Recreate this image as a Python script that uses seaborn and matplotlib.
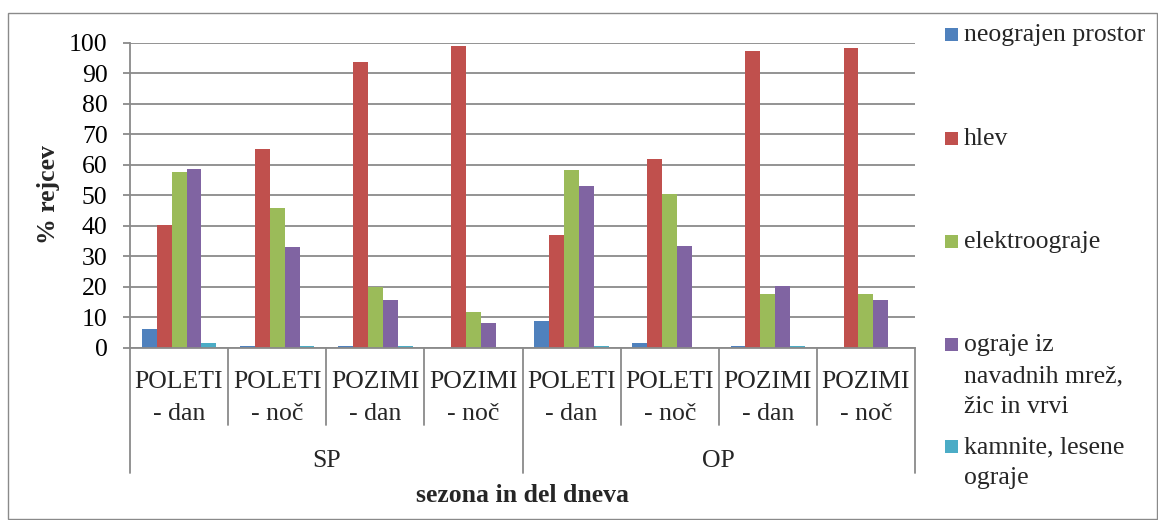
import matplotlib
matplotlib.use("Agg")
import matplotlib.pyplot as plt
import matplotlib.transforms as mtransforms
from matplotlib.patches import Rectangle
from matplotlib.lines import Line2D
import seaborn as sns
import pandas as pd

# --- data -----------------------------------------------------------------
groups = ["SP", "OP"]
periods = ["POLETI\n- dan", "POLETI\n- noč", "POZIMI\n- dan", "POZIMI\n- noč"]
series_names = [
    "neograjen prostor",
    "hlev",
    "elektroograje",
    "ograje iz\nnavadnih mrež,\nžic in vrvi",
    "kamnite, lesene\nograje",
]
neograjen = [6.2, 0.6, 0.6, 0.0, 8.6, 1.5, 0.6, 0.0]
hlev = [40.2, 65.1, 93.6, 99.0, 37.0, 61.8, 97.4, 98.2]
elektro = [57.7, 45.7, 20.0, 11.8, 58.3, 50.4, 17.6, 17.6]
mreze = [58.6, 32.9, 15.5, 8.1, 53.0, 33.4, 20.3, 15.7]
kamnite = [1.5, 0.6, 0.6, 0.0, 0.6, 0.0, 0.6, 0.0]
colors = ["#4F81BD", "#C0504D", "#9BBB59", "#8064A2", "#4BACC6"]
yticks = list(range(0, 101, 10))

# --- long-form table ------------------------------------------------------
cats = [f"{g}|{p}" for g in groups for p in periods]
series_values = [neograjen, hlev, elektro, mreze, kamnite]
rows = []
for name, vals in zip(series_names, series_values):
    for c, v in zip(cats, vals):
        rows.append({"kategorija": c, "serija": name, "delez": v})
df = pd.DataFrame(rows)

# --- style ----------------------------------------------------------------
sns.set_theme(style="white")
plt.rcParams["font.family"] = ["Liberation Serif", "DejaVu Serif"]
FS = 18.5
GRID = "#8a8a8a"

W, H = 1158, 520
fig = plt.figure(figsize=(W / 100, H / 100), dpi=100)


def fx(px):
    return px / W


def fy(py):
    return 1 - py / H


ax_left, ax_right, ax_top, ax_bottom = 130, 915, 42.7, 347.7
ax = fig.add_axes([fx(ax_left), fy(ax_bottom), fx(ax_right - ax_left),
                   (ax_bottom - ax_top) / H])

sns.barplot(data=df, x="kategorija", y="delez", hue="serija", order=cats,
            hue_order=series_names, palette=colors, saturation=1,
            width=0.76, gap=0, legend=False, ax=ax, errorbar=None,
            edgecolor="none")

ax.set_xlim(-0.5, len(cats) - 0.5)
ax.set_ylim(0, 100)
ax.set_yticks(yticks)
ax.set_yticklabels([str(t) for t in yticks], fontsize=FS, color="black")
ax.yaxis.grid(True, color=GRID, linewidth=1.3)
ax.set_axisbelow(True)
ax.tick_params(axis="y", direction="out", length=5.2, width=1.3,
               color=GRID, pad=11, left=True)
ax.tick_params(axis="x", bottom=False, labelbottom=False)
ax.set_xlabel("")
ax.set_ylabel("")
for s in ["top", "right"]:
    ax.spines[s].set_visible(False)
for s in ["left", "bottom"]:
    ax.spines[s].set_color(GRID)
    ax.spines[s].set_linewidth(1.3)

# --- multi-level category axis -------------------------------------------
blend = mtransforms.blended_transform_factory(ax.transData, fig.transFigure)
n_per = len(periods)
for i in range(len(cats) + 1):
    x = i - 0.5
    outer = (i % n_per == 0)
    y_end = 473 if outer else 425
    fig.add_artist(Line2D([x, x], [fy(ax_bottom), fy(y_end)], transform=blend,
                          color=GRID, linewidth=1.3))

for i, c in enumerate(cats):
    lines = c.split("|")[1].split("\n")
    for j, ln in enumerate(lines):
        fig.text(i, fy(387.7 + 32 * j), ln, transform=blend, ha="center",
                 va="baseline", fontsize=FS)

for gi, g in enumerate(groups):
    xc = gi * n_per + (n_per - 1) / 2
    fig.text(xc, fy(466.7), g, transform=blend, ha="center", va="baseline",
             fontsize=FS)

fig.text(fx((ax_left + ax_right) / 2), fy(502.5), "sezona in del dneva",
         ha="center", va="baseline", fontsize=FS, fontweight="bold")
fig.text(fx(48), fy(195), "% rejcev", rotation=90, ha="center",
         va="center", fontsize=FS, fontweight="bold")

# --- legend ---------------------------------------------------------------
baselines = [41, 145, 248, 351, 453]
for name, col, base in zip(series_names, colors, baselines):
    fig.add_artist(Rectangle((fx(945), fy(base)), 13 / W, 13 / H,
                             transform=fig.transFigure, facecolor=col,
                             edgecolor="none"))
    for j, ln in enumerate(name.split("\n")):
        fig.text(fx(964), fy(base + 31 * j), ln, ha="left", va="baseline",
                 fontsize=FS)

# --- chart frame ------------------------------------------------------------
fig.add_artist(Rectangle((fx(8), fy(519)), (W - 9) / W, (519 - 13) / H,
                         transform=fig.transFigure, facecolor="none",
                         edgecolor=GRID, linewidth=1.0))

fig.savefig("out.png", dpi=100, facecolor="white")
